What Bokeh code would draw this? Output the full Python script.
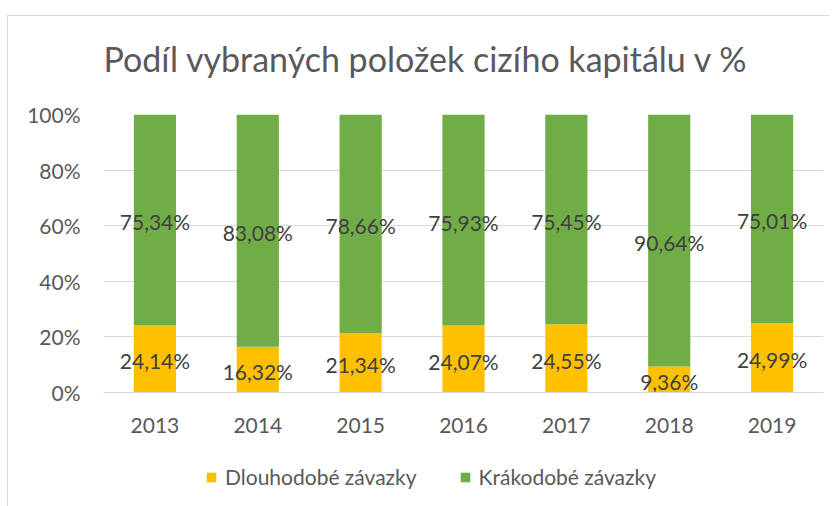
from bokeh.plotting import figure
from bokeh.layouts import column
from bokeh.models import (ColumnDataSource, Legend, LegendItem, FactorRange, Range1d,
                          NumeralTickFormatter, FixedTicker, Label)
from bokeh.embed import file_html
from bokeh.resources import INLINE
from bokeh.core.properties import value

years = ["2013", "2014", "2015", "2016", "2017", "2018", "2019"]
dlouhodobe = [24.14, 16.32, 21.34, 24.07, 24.55, 9.36, 24.99]
kratkodobe = [75.34, 83.08, 78.66, 75.93, 75.45, 90.64, 75.01]
y_ticks = [0, 0.2, 0.4, 0.6, 0.8, 1.0]
series_names = ["Dlouhodobé závazky", "Krákodobé závazky"]
title_text = "Podíl  vybraných položek cizího kapitálu v %"

YELLOW = "#FFC000"
GREEN = "#70AD47"
GRID = "#D9D9D9"
TXT = "#595959"
LBL = "#404040"
FONT = "Lato"

tot = [a + b for a, b in zip(dlouhodobe, kratkodobe)]
d_top = [a / t for a, t in zip(dlouhodobe, tot)]
src = ColumnDataSource(dict(
    year=years,
    d_top=d_top,
    one=[1.0] * len(years),
    zero=[0.0] * len(years),
    d_mid=[v / 2 for v in d_top],
    k_mid=[(v + 1) / 2 for v in d_top],
    d_lab=[("%.2f%%" % v).replace(".", ",") for v in dlouhodobe],
    k_lab=[("%.2f%%" % v).replace(".", ",") for v in kratkodobe],
))


def strip(h):
    f = figure(width=821, height=h, x_range=Range1d(0, 1), y_range=Range1d(0, 1),
               output_backend="svg", toolbar_location=None,
               x_axis_location=None, y_axis_location=None,
               min_border_left=0, min_border_right=0, min_border_top=0, min_border_bottom=0)
    f.outline_line_color = None
    f.xgrid.grid_line_color = None
    f.ygrid.grid_line_color = None
    return f


# title strip
tf = strip(70)
tf.add_layout(Label(x=0, y=28, x_units="screen", y_units="screen", text=title_text,
                    text_font=FONT, text_font_size="34px", text_color=TXT,
                    text_baseline="alphabetic", text_align="left"))

# main chart
p = figure(width=821, height=360, x_range=FactorRange(*years, range_padding=0),
           y_range=Range1d(0, 1), output_backend="svg", toolbar_location=None,
           min_border_left=95, min_border_right=6, min_border_top=28, min_border_bottom=54)

p.vbar(x="year", bottom="zero", top="d_top", width=0.41, source=src,
       fill_color=YELLOW, line_color=None)
p.vbar(x="year", bottom="d_top", top="one", width=0.41, source=src,
       fill_color=GREEN, line_color=None)

p.text(x="year", y="d_mid", text="d_lab", source=src, text_align="center", y_offset=2,
       text_baseline="middle", text_font=value(FONT), text_font_size="21px", text_color=LBL)
p.text(x="year", y="k_mid", text="k_lab", source=src, text_align="center", y_offset=2,
       text_baseline="middle", text_font=value(FONT), text_font_size="21px", text_color=LBL)

p.outline_line_color = None
p.xgrid.grid_line_color = None
p.ygrid.grid_line_color = GRID
p.ygrid.grid_line_width = 1

p.yaxis.ticker = FixedTicker(ticks=y_ticks)
p.yaxis.formatter = NumeralTickFormatter(format="0%")
p.yaxis.axis_line_color = None
p.yaxis.major_tick_line_color = None
p.yaxis.minor_tick_line_color = None
p.yaxis.major_label_text_font = FONT
p.yaxis.major_label_text_font_size = "21px"
p.yaxis.major_label_text_color = TXT
p.yaxis.major_label_standoff = 17

p.xaxis.axis_line_color = GRID
p.xaxis.axis_line_width = 1
p.xaxis.major_tick_line_color = None
p.xaxis.minor_tick_line_color = None
p.xaxis.major_label_text_font = FONT
p.xaxis.major_label_text_font_size = "21px"
p.xaxis.major_label_text_color = TXT
p.xaxis.major_label_standoff = 19

# legend strip
lf = strip(60)
nan = float("nan")
dummy = ColumnDataSource(dict(x=[nan], y=[nan]))
g1 = lf.rect(x="x", y="y", width=0.1, height=0.1, source=dummy, fill_color=YELLOW, line_color=None)
g2 = lf.rect(x="x", y="y", width=0.1, height=0.1, source=dummy, fill_color=GREEN, line_color=None)

legend = Legend(items=[LegendItem(label=series_names[0], renderers=[g1]),
                       LegendItem(label=series_names[1], renderers=[g2])],
                orientation="horizontal", location=(102, 17),
                label_text_font=FONT, label_text_font_size="21px", label_text_color=TXT,
                glyph_width=12, glyph_height=12, label_standoff=8, spacing=42,
                padding=0, margin=0, border_line_color=None, background_fill_alpha=0)
lf.add_layout(legend, "center")

layout = column(tf, p, lf, spacing=0,
                styles={"border-left": "1px solid #D9D9D9", "border-top": "1px solid #D9D9D9",
                        "margin-left": "7px", "margin-top": "15px"})

open("out.html", "w").write(file_html(layout, INLINE))
